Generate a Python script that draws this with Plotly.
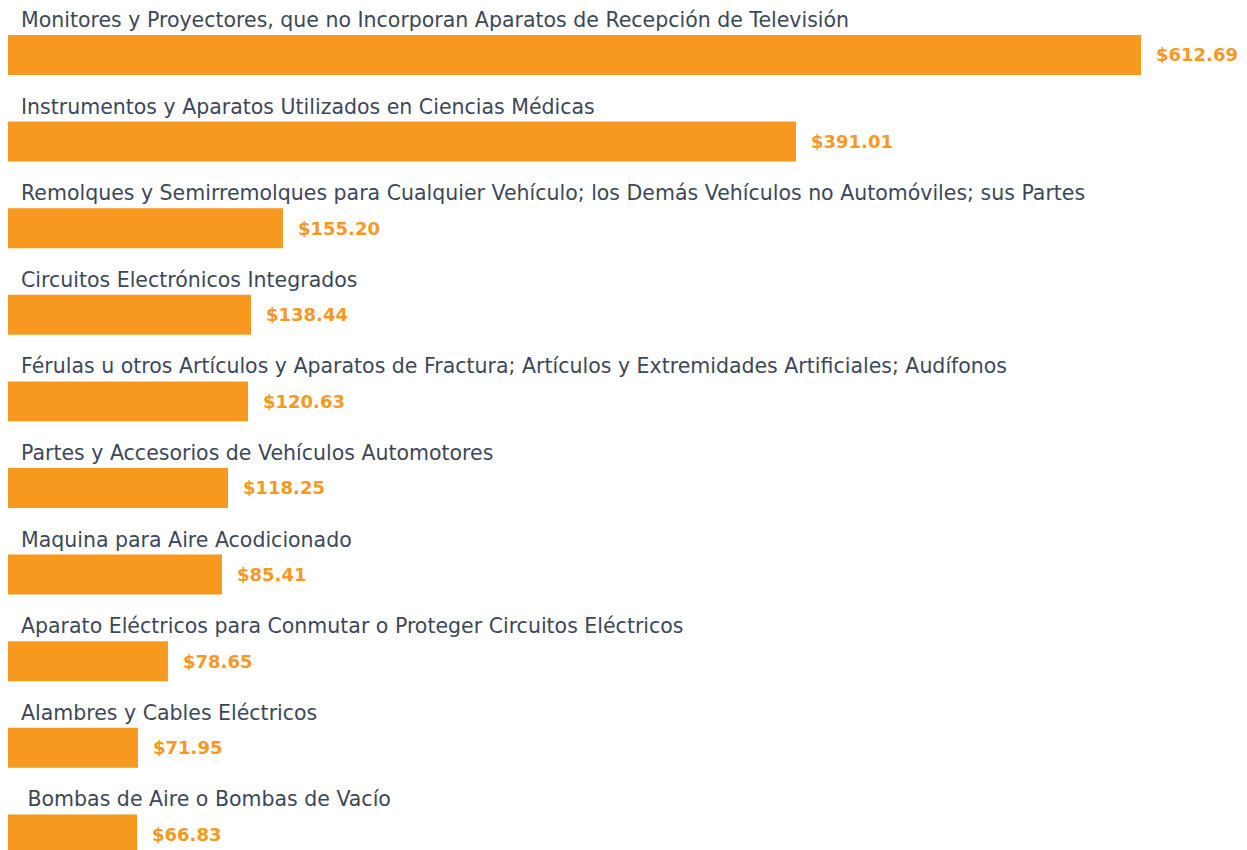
import plotly.graph_objects as go

categories = [
    "Monitores y Proyectores, que no Incorporan Aparatos de Recepción de Televisión",
    "Instrumentos y Aparatos Utilizados en Ciencias Médicas",
    "Remolques y Semirremolques para Cualquier Vehículo; los Demás Vehículos no Automóviles; sus Partes",
    "Circuitos Electrónicos Integrados",
    "Férulas u otros Artículos y Aparatos de Fractura; Artículos y Extremidades Artificiales; Audífonos",
    "Partes y Accesorios de Vehículos Automotores",
    "Maquina para Aire Acodicionado",
    "Aparato Eléctricos para Conmutar o Proteger Circuitos Eléctricos",
    "Alambres y Cables Eléctricos",
    " Bombas de Aire o Bombas de Vacío",
]
values = [612.69, 391.01, 155.20, 138.44, 120.63, 118.25, 85.41, 78.65, 71.95, 66.83]
# bar lengths as drawn in the picture (same units as the largest value)
bar_lengths = [612.69, 426.1, 148.7, 131.4, 129.8, 119.0, 115.7, 86.5, 70.3, 69.8]
value_labels = ["$%.2f" % v for v in values]

ORANGE = "#F7981F"
TEXT = "#3C4858"
FONT = "DejaVu Sans"

fig = go.Figure()
fig.add_trace(go.Bar(
    x=bar_lengths, y=categories, orientation="h",
    marker=dict(color=ORANGE, line=dict(width=0)),
    width=0.4615, hoverinfo="skip",
))

annotations = []
for cat, blen, lab in zip(categories, bar_lengths, value_labels):
    annotations.append(dict(
        x=0, y=cat, xref="x", yref="y", text=cat, showarrow=False,
        xanchor="left", yanchor="middle", xshift=11, yshift=35,
        font=dict(family=FONT, size=20.5, color=TEXT),
    ))
    annotations.append(dict(
        x=blen, y=cat, xref="x", yref="y", text="<b>" + lab + "</b>", showarrow=False,
        xanchor="left", yanchor="middle", xshift=13, yshift=0,
        font=dict(family=FONT, size=18, color=ORANGE),
    ))

fig.update_layout(
    width=1239, height=842,
    margin=dict(l=0, r=0, t=0, b=0),
    paper_bgcolor="white", plot_bgcolor="white",
    showlegend=False,
    annotations=annotations,
    xaxis=dict(range=[0, 670.0], visible=False, showgrid=False, zeroline=False),
    yaxis=dict(
        categoryorder="array", categoryarray=categories,
        range=[9.18, -0.5423], showticklabels=False, ticks="",
        showgrid=False, zeroline=False,
        showline=True, linecolor=ORANGE, linewidth=1,
    ),
)

fig.write_html("out.html")
